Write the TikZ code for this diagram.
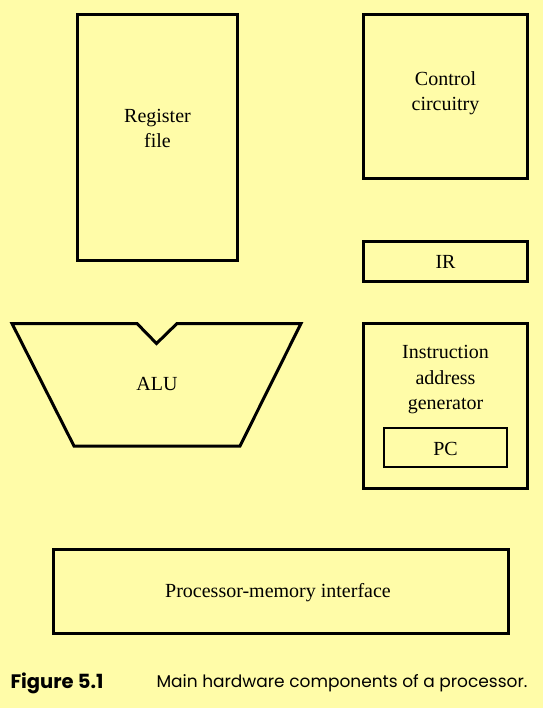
\documentclass[tikz,border=0pt]{standalone}
\usepackage{fontspec}
\setmainfont{Liberation Serif}
\newfontfamily\capfont{Poppins}
\usetikzlibrary{positioning}
\definecolor{paper}{RGB}{255,252,168}
\tikzset{blk/.style = {draw, line width = 3pt, inner sep = 0, minimum width = 160, minimum height = 40}}
\tikzset{lbl/.style = {align = center, font = \fontsize{20}{25.5}\selectfont}}

\begin{document}
\begin{tikzpicture}[x = 1pt, y = -1pt]
    \fill [paper] (0, 0) rectangle (543, 708);
    \useasboundingbox (0, 0) rectangle (543, 708);

    \node [blk, minimum height = 246] (regfile) at (157.5, 137.5) {};
    \node [lbl] (regtext) at (157.5, 128.5) {Register\\file};

    \node [blk, minimum width = 164, minimum height = 164] (control) at (445.5, 96.5) {};
    \node [lbl] (ctrltext) at (445.5, 93) {Control\\circuitry};

    \node [blk, minimum width = 164, minimum height = 40] (ir) at (445.5, 261.5) {};
    \node [lbl] (irtext) at (445.5, 262) {IR};

    \node [blk, minimum width = 164, minimum height = 165] (iag) at (445.5, 406) {};
    \node [lbl] (iagtext) at (445.5, 380) {Instruction\\address\\generator};
    \node [blk, line width = 2pt, minimum width = 123, minimum height = 39] (pc) at (445.5, 447.5) {};
    \node [lbl] (pctext) at (445.5, 448.5) {PC};

    \draw [line width = 3pt] (12, 323.5) -- (137, 323.5) -- (156.5, 343.5) -- (177, 323.5)
        -- (301, 323.5) -- (240, 446) -- (74, 446) -- cycle;
    \node [lbl] (alu) at (157, 384) {ALU};

    \node [blk, minimum width = 455, minimum height = 84] (pmi) at (281, 591.5) {};
    \node [lbl] (pmitext) at (278, 592.5) {Processor-memory interface};

    \node [anchor = west, font = \capfont\bfseries\fontsize{19.5}{22}\selectfont] (fignum) at (7, 683) {Figure 5.1};
    \node [anchor = west, font = \capfont\fontsize{17}{20}\selectfont] (caption) at (153, 683) {Main hardware components of a processor.};
  \end{tikzpicture}
\end{document}
